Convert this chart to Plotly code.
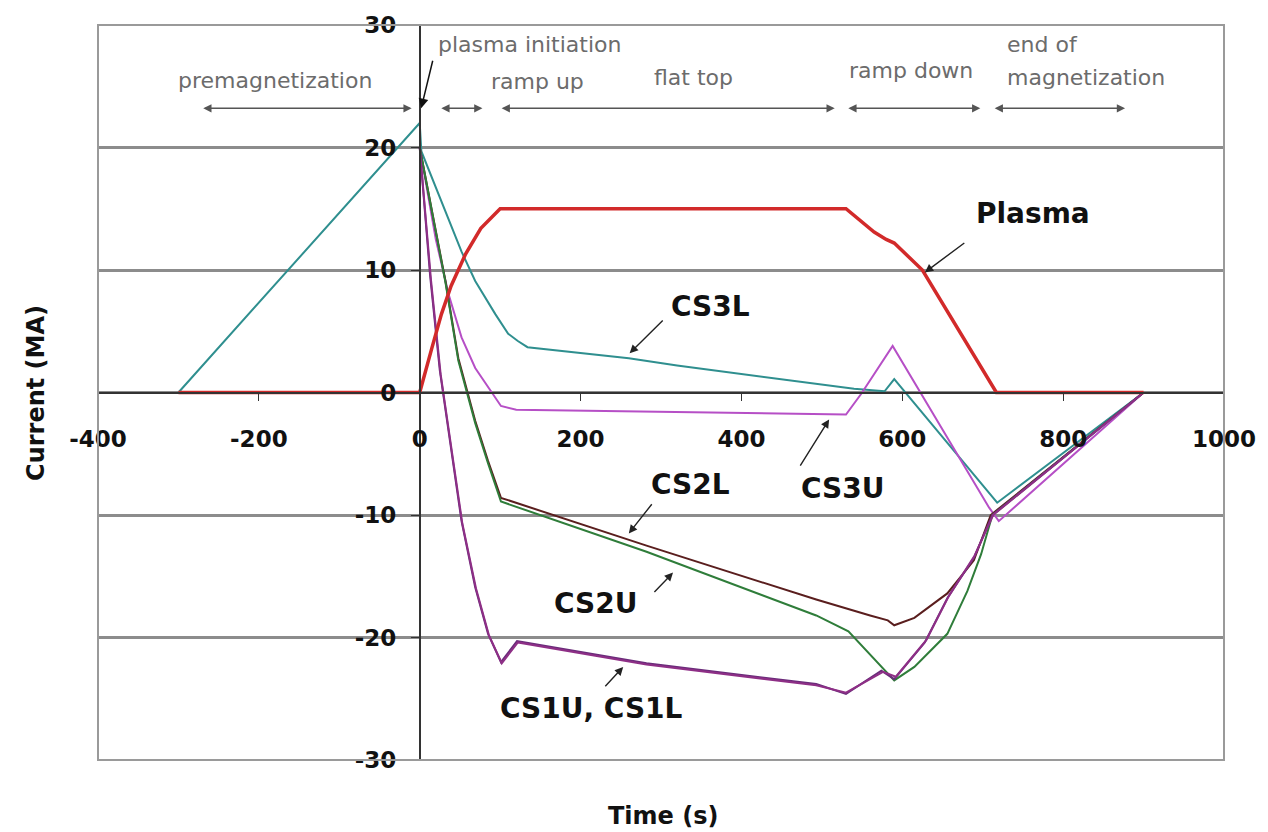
import plotly.graph_objects as go

# ---------------- data ----------------
t_plasma = [-300, 0, 15, 27, 39, 57, 76, 100, 530, 565, 580, 590, 625, 717, 900]
i_plasma = [0, 0, 3.6, 6.4, 8.7, 11.3, 13.4, 15.0, 15.0, 13.1, 12.5, 12.2, 10.0, 0, 0]

t_cs3l = [-300, 0, 2, 52, 69, 94, 110, 122, 134, 260, 320, 540, 578, 590, 718, 900]
i_cs3l = [0, 22.0, 19.7, 11.5, 9.1, 6.4, 4.8, 4.2, 3.7, 2.8, 2.2, 0.3, 0.1, 1.1, -9.0, 0]

t_cs3u = [0, 20, 36, 52, 69, 85, 101, 120, 530, 549, 588, 708, 720, 900]
i_cs3u = [20, 12.5, 8.0, 4.5, 2.0, 0.5, -1.1, -1.4, -1.8, -0.1, 3.8, -9.4, -10.5, 0]

t_cs2l = [0, 32, 48, 69, 85, 101, 282, 493, 560, 582, 590, 615, 656, 689, 710, 900]
i_cs2l = [20, 9.1, 2.8, -2.3, -5.6, -8.6, -12.5, -16.9, -18.2, -18.6, -19.0, -18.4, -16.4, -13.7, -10.0, 0]

t_cs2u = [0, 32, 48, 69, 85, 101, 282, 493, 533, 590, 615, 656, 681, 698, 712, 900]
i_cs2u = [20, 9.0, 2.6, -2.5, -5.8, -8.9, -13.0, -18.2, -19.5, -23.5, -22.4, -19.7, -16.2, -13.2, -10.0, 0]

t_cs1u = [0, 13, 25, 39, 52, 69, 85, 101, 121, 282, 493, 530, 574, 590, 628, 656, 689, 712, 900]
i_cs1u = [20, 9.5, 1.8, -4.5, -10.5, -15.9, -19.7, -22.0, -20.3, -22.1, -23.8, -24.6, -22.7, -23.4, -20.4, -16.8, -13.5, -10.0, 0]

t_cs1l = [0, 14, 26, 40, 53, 70, 86, 102, 122, 282, 493, 530, 576, 592, 630, 658, 690, 713, 900]
i_cs1l = [20, 9.2, 1.5, -4.8, -10.7, -16.0, -19.8, -22.1, -20.4, -22.2, -23.9, -24.5, -22.8, -23.2, -20.2, -16.6, -13.3, -10.0, 0]

x_ticks = [-400, -200, 0, 200, 400, 600, 800, 1000]
y_ticks = [-30, -20, -10, 0, 10, 20, 30]

series = [
    ("CS3L", t_cs3l, i_cs3l, "#2f8f8f", 2),
    ("CS3U", t_cs3u, i_cs3u, "#b64fc6", 2),
    ("CS2L", t_cs2l, i_cs2l, "#5a1e1e", 2),
    ("CS2U", t_cs2u, i_cs2u, "#2f7d3a", 2),
    ("CS1U", t_cs1u, i_cs1u, "#6a2c7a", 2),
    ("CS1L", t_cs1l, i_cs1l, "#8e2f86", 2),
    ("Plasma", t_plasma, i_plasma, "#d22a2a", 3.5),
]

fig = go.Figure()
for name, t, i, col, w in series:
    fig.add_trace(go.Scatter(x=t, y=i, mode="lines", name=name,
                             line=dict(color=col, width=w), showlegend=False,
                             hoverinfo="skip"))

BOLD = dict(family="DejaVu Sans", size=23, color="#111111", weight="bold")

fig.update_layout(
    width=1268, height=832, autosize=False,
    margin=dict(l=98, r=36, t=23, b=72),
    paper_bgcolor="white", plot_bgcolor="white",
    xaxis=dict(range=[-400, 1000], anchor="free", position=0.5,
               tickvals=x_ticks, ticktext=[str(v) for v in x_ticks],
               showline=True, linecolor="#333333", linewidth=1.5,
               ticks="outside", ticklen=8, tickwidth=1.2, tickcolor="#333333",
               ticklabelstandoff=18, tickfont=BOLD,
               showgrid=False, zeroline=False),
    yaxis=dict(range=[-30, 30], anchor="free", position=400 / 1400,
               tickvals=y_ticks, ticktext=[str(v) for v in y_ticks],
               showline=True, linecolor="#333333", linewidth=1.5,
               ticks="outside", ticklen=8, tickwidth=1.2, tickcolor="#333333",
               ticklabelstandoff=10, tickfont=BOLD,
               showgrid=True, gridcolor="#8c8c8c", gridwidth=2.5,
               zeroline=False),
)

# plot-area frame
fig.add_shape(type="rect", xref="paper", yref="paper", x0=0, y0=0, x1=1, y1=1,
              line=dict(color="#9a9a9a", width=2), layer="above")

ann = []
GREY = dict(family="DejaVu Sans", size=22, color="#6c6c6c")
LBL = dict(family="DejaVu Sans", size=28, color="#111111", weight="bold")

# phase labels
for txt, x, y, anc in [("premagnetization", -180, 25.5, "center"),
                       ("plasma initiation", 20, 28.4, "left"),
                       ("ramp up", 147, 25.4, "center"),
                       ("flat top", 341, 25.7, "center"),
                       ("ramp down", 611, 26.3, "center"),
                       ("end of", 728, 28.4, "left"),
                       ("magnetization", 728, 25.7, "left")]:
    ann.append(dict(x=x, y=y, xref="x", yref="y", text=txt, showarrow=False,
                    xanchor=anc, yanchor="middle", font=GREY))

# phase arrows (double headed)
for a, b in [(-271, -10), (25, 78), (100, 516), (531, 697), (713, 877)]:
    ann.append(dict(x=b, y=23.2, ax=a, ay=23.2, xref="x", yref="y",
                    axref="x", ayref="y", text="", showarrow=True,
                    arrowhead=2, startarrowhead=2, arrowside="end+start",
                    arrowsize=1.1, startarrowsize=1.1, arrowwidth=1.5,
                    arrowcolor="#555555"))

# plasma initiation pointer
ann.append(dict(x=1.8, y=23.2, ax=16.6, ay=27.2, xref="x", yref="y",
                axref="x", ayref="y", text="", showarrow=True,
                arrowhead=2, arrowsize=1.3, arrowwidth=1.5, arrowcolor="#111111"))

# curve labels with pointers
for txt, tx, ty, x0, y0, x1, y1 in [
        ("Plasma", 763, 14.6, 679, 12.3, 628, 9.8),
        ("CS3L", 361, 7.05, 304, 6.0, 261, 3.2),
        ("CS3U", 526, -7.85, 472, -6.1, 509, -2.2),
        ("CS2L", 337, -7.5, 290, -9.0, 260, -11.5),
        ("CS2U", 218, -17.2, 290, -16.4, 315, -14.7),
        ("CS1U, CS1L", 214, -25.8, 229, -24.1, 253, -22.4)]:
    ann.append(dict(x=tx, y=ty, xref="x", yref="y", text=txt, showarrow=False,
                    xanchor="center", yanchor="middle", font=LBL))
    ann.append(dict(x=x1, y=y1, ax=x0, ay=y0, xref="x", yref="y",
                    axref="x", ayref="y", text="", showarrow=True,
                    arrowhead=2, arrowsize=1.2, arrowwidth=1.4,
                    arrowcolor="#222222"))

# axis titles
ann.append(dict(x=(35 - 98) / 1134, y=0.5, xref="paper", yref="paper",
                xanchor="center", yanchor="middle",
                text="Current (MA)", textangle=-90, showarrow=False,
                font=dict(family="DejaVu Sans", size=24, color="#111111", weight="bold")))
ann.append(dict(x=0.502, y=(760 - 816) / 737, xref="paper", yref="paper",
                xanchor="center", yanchor="middle",
                text="Time (s)", showarrow=False,
                font=dict(family="DejaVu Sans", size=24, color="#111111", weight="bold")))

fig.update_layout(annotations=ann)
fig.write_html("out.html")
